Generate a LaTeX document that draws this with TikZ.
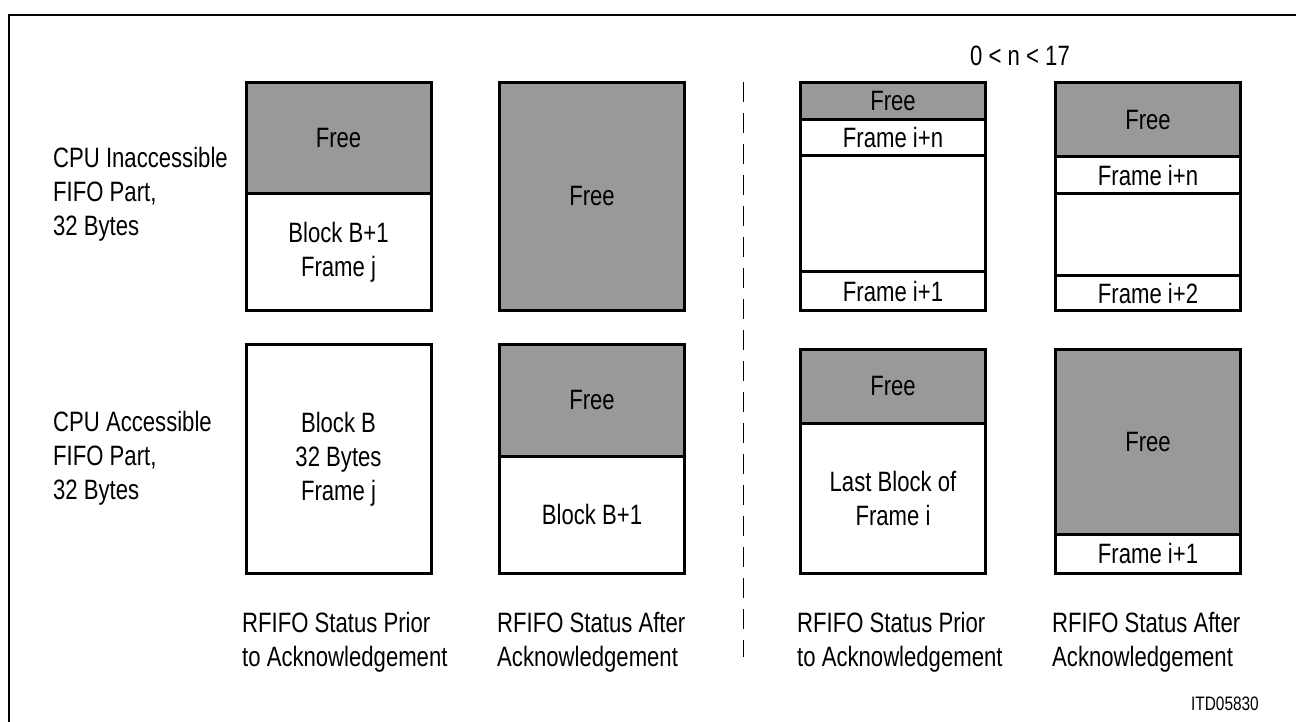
\documentclass[tikz,border=0pt]{standalone}
\usepackage{fontspec}
\setmainfont{Liberation Sans}[FakeStretch=0.79]
\usepackage{tikz}
\definecolor{freegray}{gray}{0.6}

\begin{document}
\begin{tikzpicture}[x=1pt, y=-1pt, font=\fontsize{28}{34}\selectfont]
%% all positions are in pixels of the drawing, y grows downwards
%% every column is a stack of segments, each segment is one node
%% multi-line texts are placed at the baseline of their last line
\tikzstyle{seg}=[draw, line width=3pt, fill=white, minimum width=185pt, inner sep=0pt, outer sep=0pt, anchor=north west]
\tikzstyle{freeseg}=[seg, fill=freegray]
\tikzstyle{sidetext}=[align=left, anchor=base west, inner sep=0pt]
\tikzstyle{sepline}=[line width=1pt, dash pattern=on 20pt off 11pt]
\useasboundingbox (0,0) rectangle (1296,722);
\draw[line width=2pt] (9,722) -- (9,15) -- (1296,15);
%% row labels
\node[sidetext] at (53,236) (InaccText) {CPU Inaccessible\\FIFO Part,\\32 Bytes};
\node[sidetext] at (53,499) (AccText) {CPU Accessible\\FIFO Part,\\32 Bytes};
%% column 1: status prior to acknowledgement
\node[freeseg, minimum height=111] at (246,82.5) (InFree_A) {Free};
\node[seg, minimum height=117, align=center] at (246,193.5) (InBlock_A) {Block B+1\\Frame j};
\node[seg, minimum height=229, align=center] at (246,344.5) (AcBlock_A) {Block B\\32 Bytes\\Frame j};
%% column 2: status after acknowledgement
\node[freeseg, minimum height=228] at (499.5,82.5) (InFree_B) {Free};
\node[freeseg, minimum height=111.5] at (499.5,344.5) (AcFree_B) {Free};
\node[seg, minimum height=117.5] at (499.5,456) (AcBlock_B) {Block B+1};
%% separator between the two cases
\coordinate (Sep_Top) at (743,82);
\coordinate (Sep_Bot) at (743,657);
\draw[sepline] (Sep_Top) -- (Sep_Bot);
\node[anchor=base, inner sep=0pt] at (1020,66) (RangeText) {0 < n < 17};
%% column 3: status prior to acknowledgement
\node[freeseg, minimum height=37] at (800.5,82.5) (InFree_C) {Free};
\node[seg, minimum height=36] at (800.5,119.5) (InFrameN_C) {Frame i+n};
\node[seg, minimum height=116] at (800.5,155.5) (InGap_C) {};
\node[seg, minimum height=39] at (800.5,271.5) (InFrameOne_C) {Frame i+1};
\node[freeseg, minimum height=73.5] at (800.5,349.5) (AcFree_C) {Free};
\node[seg, minimum height=150.5, align=center] at (800.5,423) (AcBlock_C) {Last Block of\\Frame i};
%% column 4: status after acknowledgement
\node[freeseg, minimum height=74.5] at (1055.5,82.5) (InFree_D) {Free};
\node[seg, minimum height=37] at (1055.5,157) (InFrameN_D) {Frame i+n};
\node[seg, minimum height=81.5] at (1055.5,194) (InGap_D) {};
\node[seg, minimum height=35] at (1055.5,275.5) (InFrameTwo_D) {Frame i+2};
\node[freeseg, minimum height=184.5] at (1055.5,349.5) (AcFree_D) {Free};
\node[seg, minimum height=39.5] at (1055.5,534) (AcFrameOne_D) {Frame i+1};
%% column captions
\node[sidetext] at (242,666) (Cap_A) {RFIFO Status Prior\\to Acknowledgement};
\node[sidetext] at (497,666) (Cap_B) {RFIFO Status After\\Acknowledgement};
\node[sidetext] at (797,666) (Cap_C) {RFIFO Status Prior\\to Acknowledgement};
\node[sidetext] at (1052,666) (Cap_D) {RFIFO Status After\\Acknowledgement};
\node[anchor=base east, inner sep=0pt, font=\fontsize{19.5}{23}\selectfont] at (1259,710) (FigId) {ITD05830};
\end{tikzpicture}
\end{document}
